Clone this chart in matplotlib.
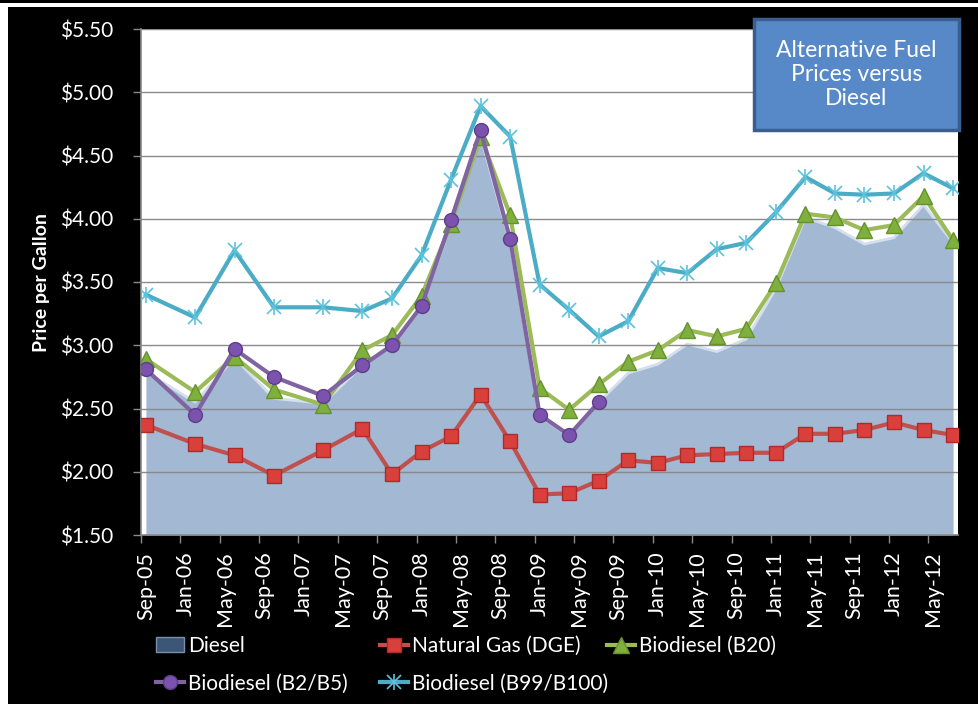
import numpy as np
import matplotlib
matplotlib.use("Agg")
import matplotlib.pyplot as plt
from matplotlib.patches import Patch, Rectangle

# ---------------- data ----------------
dates = ["2005-09", "2006-02", "2006-06", "2006-10", "2007-03", "2007-07", "2007-10",
         "2008-01", "2008-04", "2008-07", "2008-10", "2009-01", "2009-04", "2009-07",
         "2009-10", "2010-01", "2010-04", "2010-07", "2010-10", "2011-01", "2011-04",
         "2011-07", "2011-10", "2012-01", "2012-04", "2012-07"]

diesel = [2.79, 2.55, 2.90, 2.58, 2.54, 2.84, 2.99, 3.30, 3.96, 4.65, 3.81, 2.44, 2.28,
          2.55, 2.78, 2.85, 3.01, 2.95, 3.05, 3.45, 4.01, 3.93, 3.80, 3.85, 4.11, 3.81]
natural_gas = [2.37, 2.22, 2.13, 1.97, 2.17, 2.34, 1.98, 2.16, 2.28, 2.61, 2.24, 1.82, 1.83,
               1.93, 2.09, 2.07, 2.13, 2.14, 2.15, 2.15, 2.30, 2.30, 2.33, 2.39, 2.33, 2.29]
biodiesel_b20 = [2.89, 2.63, 2.91, 2.65, 2.53, 2.96, 3.08, 3.39, 3.96, 4.65, 4.03, 2.66, 2.49,
                 2.69, 2.87, 2.96, 3.12, 3.07, 3.13, 3.49, 4.04, 4.01, 3.91, 3.95, 4.18, 3.83]
biodiesel_b2b5 = [2.81, 2.45, 2.97, 2.75, 2.60, 2.84, 3.00, 3.31, 3.99, 4.70, 3.84, 2.45, 2.29,
                  2.55, None, None, None, None, None, None, None, None, None, None, None, None]
biodiesel_b99 = [3.40, 3.22, 3.75, 3.30, 3.30, 3.27, 3.37, 3.71, 4.31, 4.89, 4.65, 3.48, 3.28,
                 3.07, 3.19, 3.61, 3.57, 3.76, 3.81, 4.05, 4.33, 4.20, 4.19, 4.20, 4.36, 4.24]

xtick_labels = ["Sep-05", "Jan-06", "May-06", "Sep-06", "Jan-07", "May-07", "Sep-07",
                "Jan-08", "May-08", "Sep-08", "Jan-09", "May-09", "Sep-09", "Jan-10",
                "May-10", "Sep-10", "Jan-11", "May-11", "Sep-11", "Jan-12", "May-12"]
yticks = [1.50, 2.00, 2.50, 3.00, 3.50, 4.00, 4.50, 5.00, 5.50]

series_names = ["Diesel", "Natural Gas (DGE)", "Biodiesel (B20)",
                "Biodiesel (B2/B5)", "Biodiesel (B99/B100)"]
title_text = "Alternative Fuel\nPrices versus\nDiesel"
ylabel_text = "Price per Gallon"

# ---------------- helpers ----------------
def month_index(s):
    y, m = s.split("-")
    return (int(y) - 2005) * 12 + int(m) - 9

x = np.array([month_index(d) for d in dates], dtype=float)
to_arr = lambda v: np.array([np.nan if a is None else a for a in v], dtype=float)

plt.rcParams['font.family'] = ['Lato', 'DejaVu Sans']

W, H = 979, 704
fig = plt.figure(figsize=(W / 100, H / 100), dpi=100, facecolor='black')

# white strips of the original frame
fig.patches.append(Rectangle((0, 1 - 6.7 / H), 1, 3.4 / H, transform=fig.transFigure,
                             facecolor='white', edgecolor='none', zorder=0))
fig.patches.append(Rectangle((0, 0), 8 / W, 1 - 6.7 / H, transform=fig.transFigure,
                             facecolor='white', edgecolor='none', zorder=0))

L, R, T, B = 141, 958, 29, 535
ax = fig.add_axes([L / W, 1 - B / H, (R - L) / W, (B - T) / H])
ax.set_facecolor('white')

# area (Diesel)
ax.fill_between(x, yticks[0], to_arr(diesel), color='#A2B8D3', lw=0, zorder=1)
ax.plot(x, to_arr(diesel), color='#D3DFEC', lw=2.0, zorder=1.1)

# gridlines
for yv in yticks[1:]:
    ax.axhline(yv, color='#8A8A8A', lw=1.0, zorder=1.2)

# lines
ng, = ax.plot(x, to_arr(natural_gas), color='#C0504D', lw=3, marker='s', ms=10,
              mfc='#D9403C', mec='#B02A2A', mew=1, zorder=3)
b20, = ax.plot(x, to_arr(biodiesel_b20), color='#9BBB59', lw=3, marker='^', ms=11,
               mfc='#7FAF3C', mec='#66922E', mew=1, zorder=4)
b25, = ax.plot(x, to_arr(biodiesel_b2b5), color='#8064A2', lw=3, marker='o', ms=10,
               mfc='#7B52AE', mec='#5E3F87', mew=1, zorder=5)
b99, = ax.plot(x, to_arr(biodiesel_b99), color='#4BACC6', lw=3, marker='x', ms=10,
               mec='#5CC3DD', mew=1.2, zorder=6)
b99v, = ax.plot(x, to_arr(biodiesel_b99), ls='none', marker='|', ms=12,
                mec='#5CC3DD', mew=1.2, zorder=6)

ax.set_xlim(-0.5, 82.5)
ax.set_ylim(yticks[0], yticks[-1])

for side in ['top', 'right']:
    ax.spines[side].set_visible(False)
for side in ['left', 'bottom']:
    ax.spines[side].set_color('#8A8A8A')
    ax.spines[side].set_linewidth(1.2)

ax.set_yticks(yticks)
ax.set_yticklabels([f"${v:.2f}" for v in yticks])
ax.tick_params(axis='y', colors='#8A8A8A', labelcolor='white', length=6, width=1,
               labelsize=15, pad=14)

major = np.arange(len(xtick_labels)) * 4
ax.set_xticks(major)
ax.set_xticklabels(xtick_labels, rotation=90)
ax.tick_params(axis='x', which='major', length=0, labelcolor='white', labelsize=15.5, pad=12)
ax.set_xticks(major - 0.5, minor=True)
ax.tick_params(axis='x', which='minor', length=6, width=1, color='#8A8A8A')

# y label
fig.text(42 / W, 1 - 282 / H, ylabel_text, rotation=90, color='white', fontsize=14,
         fontweight='bold', ha='center', va='center')

# title box
bx0, by0, bx1, by1 = 754, 19, 959, 130
fig.patches.append(Rectangle((bx0 / W, 1 - by1 / H), (bx1 - bx0) / W, (by1 - by0) / H,
                             transform=fig.transFigure, facecolor='#5788C8',
                             edgecolor='#3A5F8F', lw=2.5, zorder=5))
fig.text((bx0 + bx1) / 2 / W, 1 - (by0 + by1) / 2 / H, title_text, color='white',
         fontsize=16.5, ha='center', va='center', linespacing=1.2, zorder=6)

# legend
h_diesel = Patch(facecolor='#3B5676', edgecolor='#7890AA', lw=1)
leg_kw = dict(frameon=False, fontsize=15, labelcolor='white', handlelength=1.35,
              handletextpad=0.2, labelspacing=0.85, borderpad=0, borderaxespad=0,
              loc='upper left')
ly = 1 - 636 / H
fig.legend([h_diesel, b25], [series_names[0], series_names[3]],
           bbox_to_anchor=(156 / W, ly), **leg_kw)
fig.legend([ng, (b99, b99v)], [series_names[1], series_names[4]],
           bbox_to_anchor=(380 / W, ly), **leg_kw)
fig.legend([b20], [series_names[2]], bbox_to_anchor=(607 / W, ly), **leg_kw)

fig.savefig("out.png", dpi=100, facecolor='black')
